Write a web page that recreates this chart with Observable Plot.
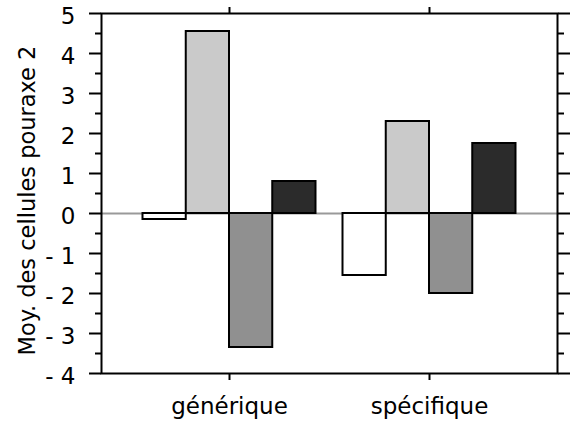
<!DOCTYPE html>
<html>
<head>
<meta charset="utf-8">
<script src="https://cdn.jsdelivr.net/npm/d3@7"></script>
<script src="https://cdn.jsdelivr.net/npm/@observablehq/plot@0.6"></script>
<style>
  html, body { margin: 0; padding: 0; background: #fff; }
</style>
</head>
<body>
<div id="chart"></div>
<script>
const categories = ["générique", "spécifique"];
const series = ["s1", "s2", "s3", "s4"];
const valuesGenerique = [-0.15, 4.55, -3.35, 0.8];
const valuesSpecifique = [-1.55, 2.3, -2.0, 1.75];
const yTicks = [-4, -3, -2, -1, 0, 1, 2, 3, 4, 5];
const yMinorTicks = [-3.5, -2.5, -1.5, -0.5, 0.5, 1.5, 2.5, 3.5, 4.5];
const yLabel = "Moy. des cellules pouraxe 2";
const fills = ["#ffffff", "#cacaca", "#909090", "#2b2b2b"];

const groupWidth = 0.865;
const barW = groupWidth / series.length;
const rows = [];
[valuesGenerique, valuesSpecifique].forEach((vals, gi) => {
  vals.forEach((v, si) => {
    rows.push({
      cat: categories[gi],
      series: series[si],
      value: v,
      x1: gi - groupWidth / 2 + si * barW,
      x2: gi - groupWidth / 2 + (si + 1) * barW
    });
  });
});

const fmt = d => d < 0 ? "- " + Math.abs(d) : String(d);

const chart = Plot.plot({
  width: 579,
  height: 427,
  marginLeft: 101,
  marginRight: 22,
  marginTop: 13,
  marginBottom: 54,
  style: { fontFamily: "'DejaVu Sans', sans-serif", fontSize: "23px", color: "black", background: "white" },
  x: { domain: [-0.64, 1.64], axis: null },
  y: { domain: [-4, 5], axis: null },
  color: { domain: series, range: fills },
  marks: [
    Plot.ruleY([0], { stroke: "#999", strokeWidth: 2 }),
    Plot.rectY(rows, { x1: "x1", x2: "x2", y: "value", fill: "series", stroke: "black", strokeWidth: 2 }),
    Plot.frame({ stroke: "black", strokeWidth: 2 }),
    Plot.axisY({ ticks: yTicks, tickSize: 12, tickFormat: () => "", strokeWidth: 2, label: null }),
    Plot.text(yTicks, { y: d => d, text: fmt, frameAnchor: "left", textAnchor: "end", dx: -26, dy: 3, fontSize: 23, fill: "black" }),
    Plot.axisY({ ticks: yMinorTicks, tickSize: 6, tickFormat: () => "", strokeWidth: 2, label: null }),
    Plot.axisY({ anchor: "right", ticks: yTicks, tickSize: 12, tickFormat: () => "", strokeWidth: 2, label: null }),
    Plot.axisY({ anchor: "right", ticks: yMinorTicks, tickSize: 6, tickFormat: () => "", strokeWidth: 2, label: null }),
    Plot.axisX({ ticks: [0, 1], tickSize: 7, tickPadding: 17, tickFormat: i => categories[i], strokeWidth: 2, label: null, fontSize: 23 }),
    Plot.axisX({ anchor: "top", ticks: [0, 1], tickSize: 7, tickFormat: () => "", strokeWidth: 2, label: null }),
    Plot.text([yLabel], { frameAnchor: "left", textAnchor: "middle", rotate: -90, dx: -74, dy: 7, fontSize: 22.5, fill: "black" })
  ]
});
document.getElementById("chart").appendChild(chart);
</script>
</body>
</html>
